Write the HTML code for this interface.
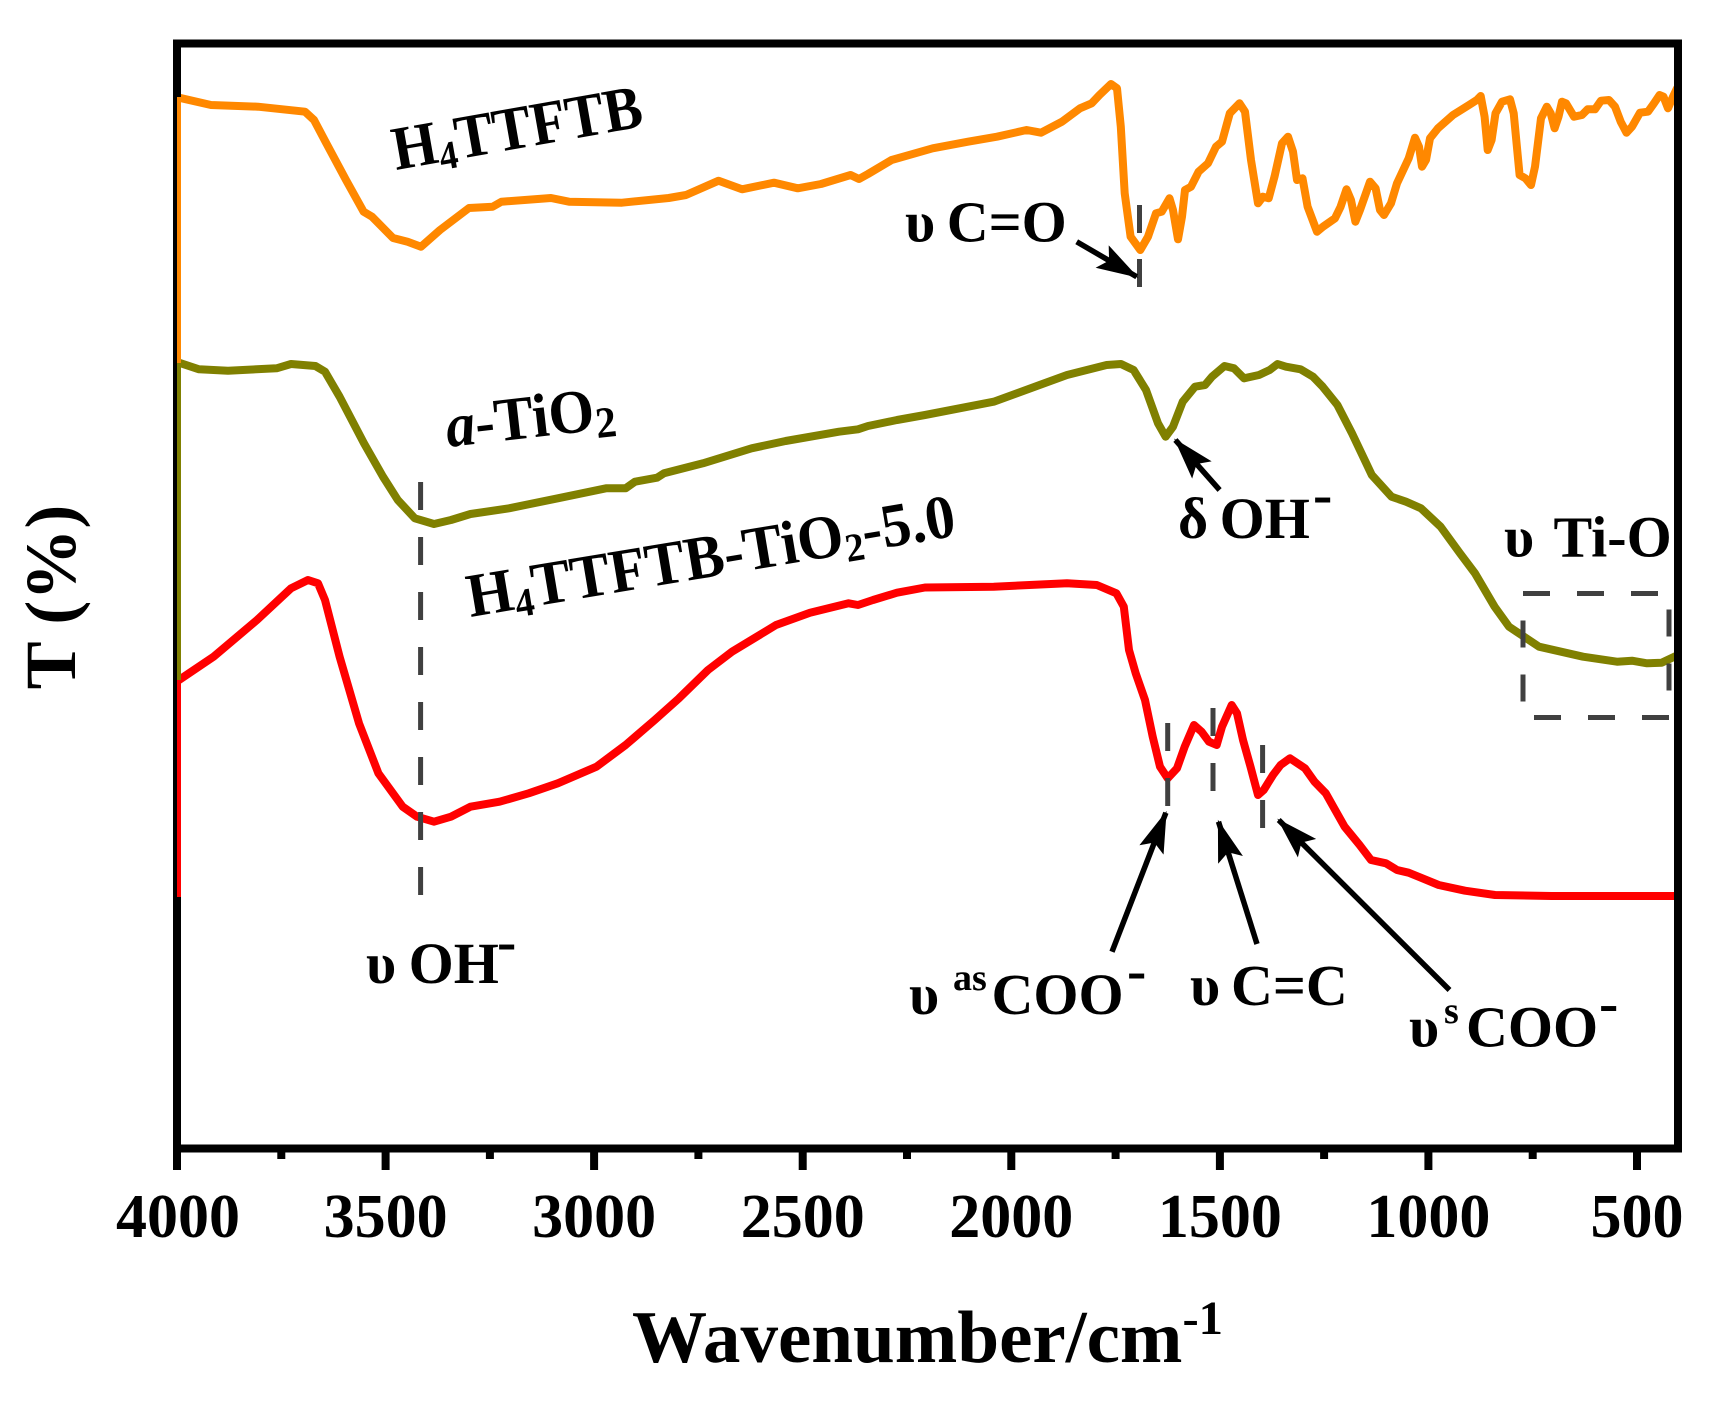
<!DOCTYPE html>
<html><head><meta charset="utf-8"><style>
html,body{margin:0;padding:0;background:#fff;}
svg{display:block;}
text{font-family:"Liberation Serif","DejaVu Serif",serif;font-weight:bold;fill:#000;}
</style></head><body>
<svg width="1723" height="1402" viewBox="0 0 1723 1402" xmlns="http://www.w3.org/2000/svg">
<defs>
<marker id="ah" markerWidth="44" markerHeight="26" refX="40" refY="13" orient="auto" markerUnits="userSpaceOnUse">
<path d="M0,0 L42,13 L0,26 L8,13 z" fill="#000"/>
</marker>
</defs>
<rect width="1723" height="1402" fill="#fff"/>

<!-- curves -->
<g fill="none" stroke-width="8" stroke-linejoin="round" stroke-linecap="round">
<polyline stroke="#FF8800" points="179,97.7 211,105 258,106.7 305,111.7 314,120 325.5,141.7 346,180 363.6,211.7 372,216.7 393,238 407.6,241.7 421,246.7 440,230 469,208 492.7,206.7 501.5,201.7 551,198 569,201.7 622,202.7 668.7,198 686,195 718.6,180.7 742,189.3 774,182.7 797.8,188.3 821,184 850.6,175 859,179 868,174 891.6,160 932.7,148.3 968,141.7 997,136.7 1026.6,130 1041,132.7 1062,121.7 1080,108.3 1091.7,103.3 1099.5,95 1111,84 1117,88.3 1120.8,126.7 1124.7,193.3 1130.6,236.7 1140.3,250 1148,236.7 1156,213.3 1161.7,211.7 1169.5,198.3 1173,210 1178,239.3 1182,216.7 1185,190 1191,186.7 1198.6,171.7 1208,163.3 1216,146.7 1222,141.7 1229.8,113.3 1239.5,103.3 1245,111.7 1251,160 1258,203.3 1263,196.7 1268.7,198.3 1274.5,176.7 1282,143.3 1288,136.7 1293,151.7 1297,180 1302.5,178.3 1307.6,206.7 1317,231.7 1323,226.7 1335,218.3 1340.6,206.7 1346.5,189.3 1351,200 1355.4,221.7 1360,210 1370,181.7 1375.6,188.3 1380,210 1384,215 1391,203.3 1397,183.3 1408.7,158.3 1415,137.7 1419,146.7 1422,166.7 1426,160 1430,138.3 1438,128.3 1453,115 1469,105 1476.8,100 1480.7,96 1484.6,116.7 1487.7,150 1491.6,140 1495.5,113.3 1502,101.7 1510,99.3 1513.7,113.3 1519.6,175 1525.4,178.3 1531,185 1535,166.7 1541,118.3 1546.8,106.7 1550.7,113.3 1554.6,128.3 1558.5,116.7 1562,101.7 1566,103.3 1574,116.7 1582,115 1587.6,109.3 1595,109.3 1601,100.7 1609,100 1615,106.7 1620.7,121.7 1626.5,132.7 1632,126.7 1640,112.7 1648,111.7 1654,103.3 1659.6,95 1663.5,96.7 1668,108.3 1673,96.7 1677,88.3"/>
<polyline stroke="#808000" points="179,362.7 199,369.3 228,370.7 276.6,368.3 291,364 315.4,366 325,371.7 339.6,396.7 364,443.3 383,476.7 397.8,500 414.8,518.3 434,524 451,520 470.5,514 509,508.3 557.8,498.3 606,488.3 625.6,488.3 635,481.7 657,477.7 664,473.3 703,463.3 751.6,448.3 785.6,441 839,431.7 858,429.3 868,426 897,420 925,415 993.7,401.7 1067,375 1106.6,365 1121,364 1133.6,370 1146,390 1158,423.3 1165.6,436.7 1173,426.7 1182.7,401.7 1195,386.7 1205,385 1212,376.7 1224.5,366 1234,368.3 1244,378.3 1259,375 1269.7,370 1277.5,364 1286,366.7 1300.6,369.3 1313,376.7 1322.7,386.7 1337.4,405 1352,433.3 1371.8,475 1391.5,496.7 1406,501.7 1421,508.3 1440.6,526.7 1460,553.3 1475,573.3 1494.6,606.7 1509,626.7 1539,646.7 1583,656.7 1617,661.7 1632,660.7 1647,663.3 1661.6,662.7 1678,655"/>
<polyline stroke="#FF0000" points="179,680 213.6,656.7 257,620 291,588.3 308,580 318,583.3 325,600 339.6,656.7 359,723.3 378.4,773.3 402.7,806.7 417,816.7 434,821.7 451,816.7 470.5,806.7 499.6,801.7 528.7,793.3 557.8,783.3 596.5,766.7 625.6,745 654.7,720 679,698.3 708,670 732,651.7 776,625 810,612.7 848.6,603.3 858,605 873,600 897,592.7 925,587.5 993.7,586.7 1067,583.3 1096.8,585 1116.4,593.3 1123.8,606.7 1129,650 1135.7,673.3 1145,700 1152.7,736.7 1160,766.7 1167.7,778.3 1177,768.3 1184.7,746.7 1194,725 1201.6,731.7 1209,741.7 1216.7,745 1222,726.7 1231.7,705 1237,713.3 1243,740 1250.5,766.7 1258,795 1263.7,790 1273,775 1280.6,765 1290,758.3 1305,768.3 1314.5,781.7 1325.8,793.3 1333.3,806.7 1344.6,826.7 1359.6,845 1371,860 1386,863.3 1397,870 1408.6,872.7 1420,877.3 1438.7,885 1465,890.7 1495,895 1551.6,896 1678,896"/>
</g>

<!-- frame -->
<rect x="177" y="43.5" width="1501" height="1105" fill="none" stroke="#000" stroke-width="8"/>
<!-- left vertical series lines -->
<line x1="179" y1="97" x2="179" y2="363" stroke="#FF8800" stroke-width="4"/>
<line x1="179" y1="363" x2="179" y2="680" stroke="#808000" stroke-width="4"/>
<line x1="179" y1="680" x2="179" y2="897" stroke="#FF0000" stroke-width="4"/>

<!-- ticks -->
<g stroke="#000" stroke-width="8">
<line x1="177" y1="1148" x2="177" y2="1170"/>
<line x1="385.6" y1="1148" x2="385.6" y2="1170"/>
<line x1="594.1" y1="1148" x2="594.1" y2="1170"/>
<line x1="802.7" y1="1148" x2="802.7" y2="1170"/>
<line x1="1011.3" y1="1148" x2="1011.3" y2="1170"/>
<line x1="1219.9" y1="1148" x2="1219.9" y2="1170"/>
<line x1="1428.4" y1="1148" x2="1428.4" y2="1170"/>
<line x1="1637" y1="1148" x2="1637" y2="1170"/>
<line x1="281.3" y1="1148" x2="281.3" y2="1159"/>
<line x1="489.9" y1="1148" x2="489.9" y2="1159"/>
<line x1="698.4" y1="1148" x2="698.4" y2="1159"/>
<line x1="907" y1="1148" x2="907" y2="1159"/>
<line x1="1115.6" y1="1148" x2="1115.6" y2="1159"/>
<line x1="1324.1" y1="1148" x2="1324.1" y2="1159"/>
<line x1="1532.7" y1="1148" x2="1532.7" y2="1159"/>
</g>

<!-- tick labels -->
<g font-size="62" text-anchor="middle">
<text x="178" y="1237">4000</text>
<text x="385.6" y="1237">3500</text>
<text x="594.1" y="1237">3000</text>
<text x="802.7" y="1237">2500</text>
<text x="1011.3" y="1237">2000</text>
<text x="1219.9" y="1237">1500</text>
<text x="1428.4" y="1237">1000</text>
<text x="1637" y="1237">500</text>
</g>

<!-- axis titles -->
<text x="632" y="1362" font-size="74" textLength="591" lengthAdjust="spacingAndGlyphs">Wavenumber/cm<tspan font-size="48" dy="-28">-1</tspan></text>
<text x="0" y="0" font-size="72" text-anchor="middle" transform="translate(75,597) rotate(-90)">T (%)</text>

<!-- dashed markers -->
<g stroke="#404040" stroke-width="5" fill="none">
<line x1="1139.5" y1="205" x2="1139.5" y2="288" stroke-dasharray="28 26"/>
<line x1="420.6" y1="482" x2="420.6" y2="896" stroke-dasharray="28 27"/>
<line x1="1167.7" y1="723" x2="1167.7" y2="806" stroke-dasharray="28 27"/>
<line x1="1213" y1="708" x2="1213" y2="791" stroke-dasharray="28 27"/>
<line x1="1262.6" y1="745" x2="1262.6" y2="828" stroke-dasharray="28 27"/>
<rect x="1523" y="593.5" width="146" height="124" stroke-dasharray="27 27"/>
</g>

<!-- arrows -->
<g stroke="#000" stroke-width="5.5" marker-end="url(#ah)">
<line x1="1076.7" y1="241.7" x2="1136.7" y2="276.7"/>
<line x1="1219.6" y1="490" x2="1175.4" y2="440"/>
<line x1="1112" y1="951.7" x2="1165.9" y2="812.7"/>
<line x1="1257" y1="944" x2="1218.5" y2="821.7"/>
<line x1="1449.5" y1="990" x2="1278.7" y2="820"/>
</g>

<!-- sample labels -->
<text x="396" y="170" font-size="62" transform="rotate(-10 396 170)" textLength="253" lengthAdjust="spacingAndGlyphs">H<tspan font-size="40" dy="8">4</tspan><tspan dy="-8">TTFTB</tspan></text>
<text x="448" y="447" font-size="62" transform="rotate(-6.5 448 447)" textLength="170" lengthAdjust="spacingAndGlyphs"><tspan font-style="italic">a</tspan>-TiO<tspan font-size="44" dy="8">2</tspan></text>
<text x="470.5" y="617" font-size="62" transform="rotate(-9.5 470.5 617)" textLength="494" lengthAdjust="spacingAndGlyphs">H<tspan font-size="40" dy="8">4</tspan><tspan dy="-8">TTFTB-TiO</tspan><tspan font-size="40" dy="8">2</tspan><tspan dy="-8">-5.0</tspan></text>

<!-- annotations -->
<g font-size="58">
<text x="905" y="241.7">υ</text>
<text x="946.7" y="241.7">C=O</text>

<text x="1178" y="538">δ</text>
<text x="1219.6" y="538">OH</text>
<text x="1313" y="514">-</text>

<text x="1504" y="556.7">υ</text>
<text x="1553.5" y="556.7">Ti-O</text>

<text x="366" y="983">υ</text>
<text x="408.6" y="983">OH</text>
<text x="497" y="961">-</text>

<text x="909" y="1014">υ</text>
<text x="953" y="990" font-size="38">as</text>
<text x="991.5" y="1014">COO</text>
<text x="1127" y="990">-</text>

<text x="1190" y="1005">υ</text>
<text x="1231" y="1005">C=C</text>

<text x="1409" y="1046.7">υ</text>
<text x="1444" y="1023" font-size="38">s</text>
<text x="1466" y="1046.7">COO</text>
<text x="1599" y="1022.7">-</text>
</g>
</svg>
</body></html>
